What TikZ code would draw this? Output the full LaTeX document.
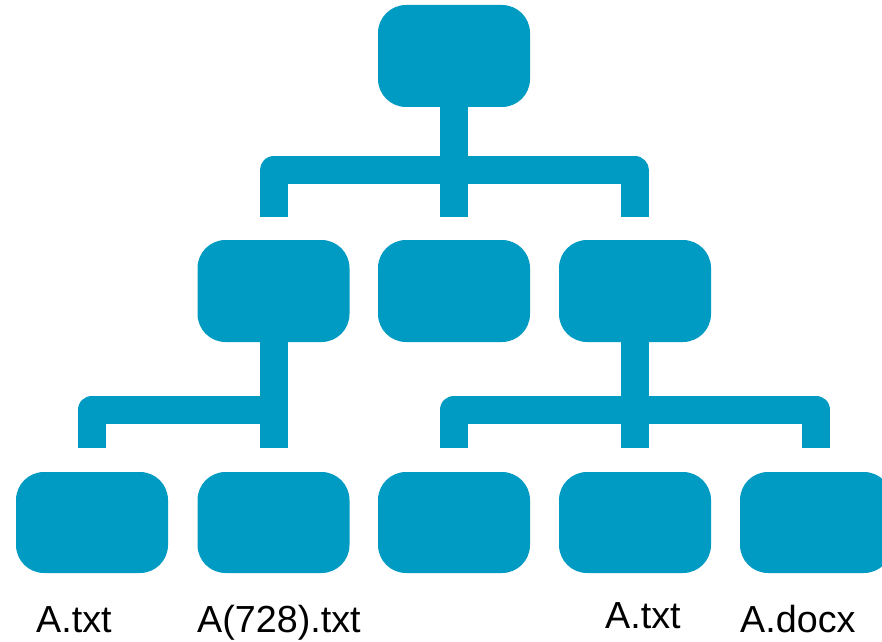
\documentclass[tikz,border=0pt]{standalone}
\usepackage{fontspec}
\setmainfont{Liberation Sans}
\definecolor{treeblue}{RGB}{0,155,194}
\begin{document}
\begin{tikzpicture}[x=1pt,y=1pt,
  box/.style={fill=treeblue,draw=none,minimum width=152pt,minimum height=102pt,inner sep=0pt,rounded corners=28pt},
  conn/.style={draw=treeblue,line width=28pt,line join=round,line cap=butt},
  lab/.style={anchor=base west,inner sep=0pt,font=\fontsize{37.7}{45}\selectfont}]
\useasboundingbox (0,0) rectangle (882,641);
\clip (0,0) rectangle (882,641);
% boxes
\node[box] (top) at (454,585) {};
\node[box] (m1) at (273.5,350) {};
\node[box] (m2) at (454,350) {};
\node[box] (m3) at (635,350) {};
\node[box,minimum height=101pt] (b1) at (92,118.5) {};
\node[box,minimum height=101pt] (b2) at (273.5,118.5) {};
\node[box,minimum height=101pt] (b3) at (454,118.5) {};
\node[box,minimum height=101pt] (b4) at (635,118.5) {};
\node[box,minimum height=101pt] (b5) at (816,118.5) {};
% junctions
\coordinate (j1) at (454,470.5);
\coordinate (j2) at (273.5,231.5);
\coordinate (j3) at (635,231.5);
% connectors level 1
\draw[conn] ([yshift=23pt]m1.north) |- (j1) -| ([yshift=23pt]m3.north);
\draw[conn] (top.south) -- ([yshift=23pt]m2.north);
% connectors level 2 left
\draw[conn] ([yshift=24pt]b1.north) |- (j2);
\draw[conn] (m1.south) -- ([yshift=24pt]b2.north);
% connectors level 2 right
\draw[conn] ([yshift=24pt]b3.north) |- (j3) -| ([yshift=24pt]b5.north);
\draw[conn] (m3.south) -- ([yshift=24pt]b4.north);
% labels
\node[lab] (l1) at (36,9) {A.txt};
\node[lab] (l2) at (197,9) {A(728).txt};
\node[lab] (l4) at (605,13) {A.txt};
\node[lab] (l5) at (740,9) {A.docx};
\end{tikzpicture}
\end{document}
